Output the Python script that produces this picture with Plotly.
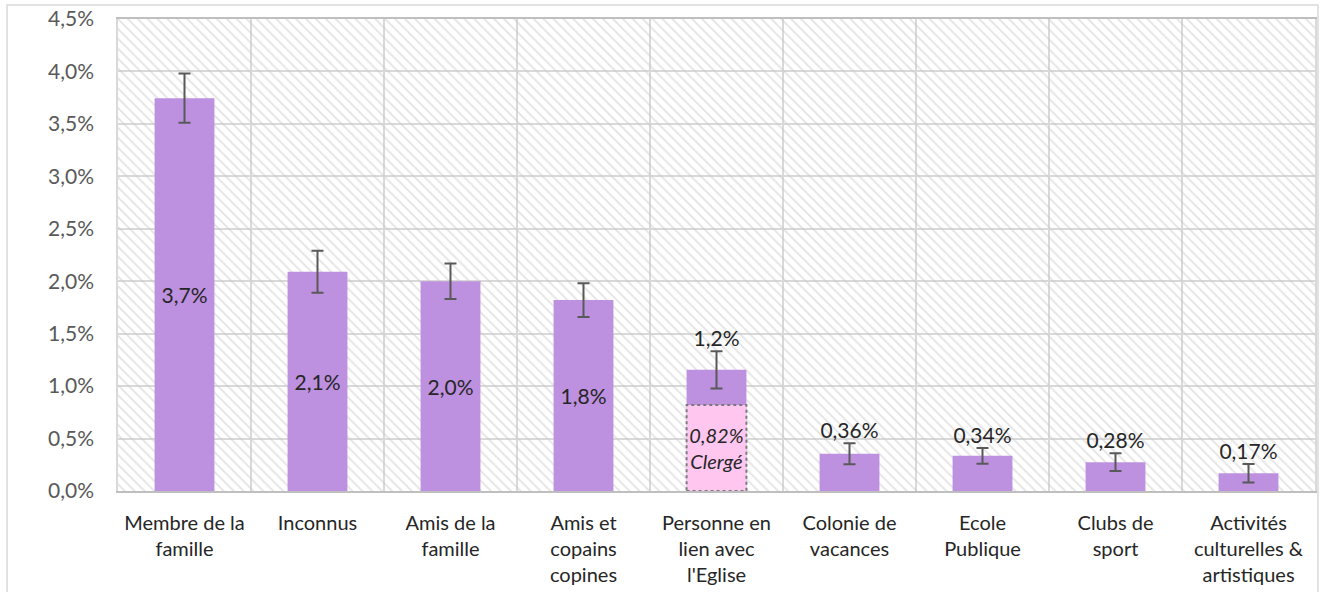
import plotly.graph_objects as go

CATEGORIES = [
    "Membre de la<br>famille",
    "Inconnus",
    "Amis de la<br>famille",
    "Amis et<br>copains<br>copines",
    "Personne en<br>lien avec<br>l'Eglise",
    "Colonie de<br>vacances",
    "Ecole<br>Publique",
    "Clubs de<br>sport",
    "Activités<br>culturelles &<br>artistiques",
]
VALUES = [3.745, 2.09, 2.00, 1.82, 1.155, 0.355, 0.335, 0.275, 0.17]
ERRORS = [0.235, 0.20, 0.17, 0.16, 0.178, 0.10, 0.075, 0.085, 0.088]
LABELS = ["3,7%", "2,1%", "2,0%", "1,8%", "1,2%", "0,36%", "0,34%", "0,28%", "0,17%"]
LABEL_INSIDE = [True, True, True, True, False, False, False, False, False]
CLERGE_CATEGORY = "Personne en<br>lien avec<br>l'Eglise"
CLERGE_VALUE = 0.82
CLERGE_LABEL = "<i>0,82%<br>Clergé</i>"
Y_MAX = 4.5
Y_DTICK = 0.5

PURPLE = "#BE90E0"
PINK = "#FFC7F0"
FONT = "Lato"
BAR_W = 0.45

n = len(CATEGORIES)
fig = go.Figure()

# hatched plot background (one full-width band per category)
fig.add_trace(go.Bar(
    x=CATEGORIES, y=[Y_MAX] * n, width=1,
    marker=dict(color="rgba(0,0,0,0)", line=dict(width=0),
                pattern=dict(shape="\\", fgcolor="#c8c8c8", bgcolor="rgba(0,0,0,0)",
                             size=7, solidity=0.25)),
    hoverinfo="skip", showlegend=False,
))

# main bars
fig.add_trace(go.Bar(
    x=CATEGORIES, y=VALUES, width=BAR_W,
    marker=dict(color=PURPLE, line=dict(width=0)),
    error_y=dict(type="data", array=ERRORS, visible=True, color="#595959",
                 thickness=2, width=6),
    text=[l if ins else "" for l, ins in zip(LABELS, LABEL_INSIDE)],
    textposition="inside", insidetextanchor="middle", textangle=0,
    constraintext="none",
    textfont=dict(family=FONT, size=21, color="#262626"),
    showlegend=False,
))

# clergy part
fig.add_trace(go.Bar(
    x=[CLERGE_CATEGORY], y=[CLERGE_VALUE], width=BAR_W,
    marker=dict(color=PINK, line=dict(width=0)),
    text=[CLERGE_LABEL], textposition="inside", insidetextanchor="middle",
    textangle=0, constraintext="none",
    textfont=dict(family=FONT, size=20, color="#262626"),
    showlegend=False,
))

# labels above error bars
out_x = [c for c, ins in zip(CATEGORIES, LABEL_INSIDE) if not ins]
out_y = [v + e for v, e, ins in zip(VALUES, ERRORS, LABEL_INSIDE) if not ins]
out_t = [l for l, ins in zip(LABELS, LABEL_INSIDE) if not ins]
fig.add_trace(go.Scatter(
    x=out_x, y=out_y, text=out_t, mode="text", textposition="top center",
    textfont=dict(family=FONT, size=21, color="#262626"),
    hoverinfo="skip", showlegend=False,
))

# dotted outline of the clergy segment
ci = CATEGORIES.index(CLERGE_CATEGORY)
fig.add_shape(type="rect", xref="x", yref="y",
              x0=ci - BAR_W / 2, x1=ci + BAR_W / 2, y0=0, y1=CLERGE_VALUE,
              line=dict(color="#7a7a7a", width=2, dash="dot"), layer="above")

# outer chart border
fig.add_shape(type="rect", xref="paper", yref="paper",
              x0=-0.0927, x1=1.0025, y0=-0.4, y1=1.0297,
              line=dict(color="#d9d9d9", width=1.5))

fig.update_layout(
    width=1323, height=592,
    margin=dict(l=118, r=8, t=19, b=101, autoexpand=False),
    paper_bgcolor="white", plot_bgcolor="white",
    barmode="overlay",
    separators=", ",
    font=dict(family=FONT, size=21, color="#404040"),
)
fig.update_xaxes(
    type="category", range=[-0.5, n - 0.5], tickson="boundaries",
    showgrid=True, gridcolor="#d9d9d9", gridwidth=1.5,
    showline=True, linecolor="#bfbfbf", linewidth=1.5, mirror=True,
    ticks="", ticklabelstandoff=13, automargin=False,
    tickfont=dict(family=FONT, size=20, color="#262626"),
)
fig.update_yaxes(
    range=[0, Y_MAX], dtick=Y_DTICK, tick0=0, tickformat=".1f", ticksuffix="%",
    showgrid=True, gridcolor="#d9d9d9", gridwidth=1.5, zeroline=False,
    showline=True, linecolor="#d9d9d9", linewidth=1.5, mirror=True,
    ticks="", ticklabelstandoff=18, automargin=False,
    tickfont=dict(family=FONT, size=21, color="#595959"),
)

fig.write_html("out.html", config={"displayModeBar": False},
               post_script="document.body.style.margin='0';")
